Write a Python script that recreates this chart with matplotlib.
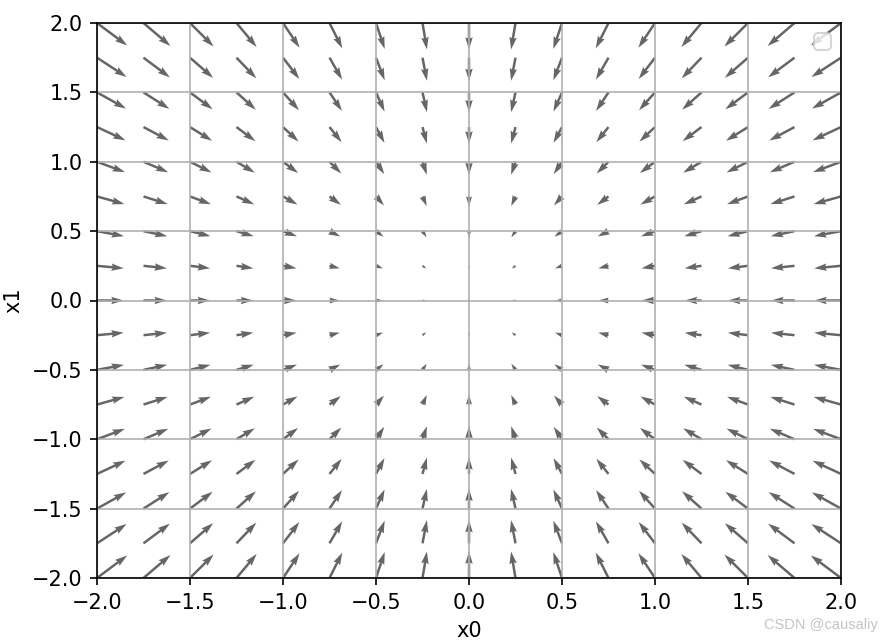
import numpy as np
import matplotlib
matplotlib.use("Agg")
import matplotlib.pyplot as plt

# grid of sample points (same for x0 and x1)
grid_x0 = [-2.0, -1.75, -1.5, -1.25, -1.0, -0.75, -0.5, -0.25, 0.0,
           0.25, 0.5, 0.75, 1.0, 1.25, 1.5, 1.75, 2.0, 2.25]
grid_x1 = [-2.0, -1.75, -1.5, -1.25, -1.0, -0.75, -0.5, -0.25, 0.0,
           0.25, 0.5, 0.75, 1.0, 1.25, 1.5, 1.75, 2.0, 2.25]

# negative gradient components read per column (x0) and per row (x1)
neg_grad_x0 = [4.0, 3.5, 3.0, 2.5, 2.0, 1.5, 1.0, 0.5, 0.0,
               -0.5, -1.0, -1.5, -2.0, -2.5, -3.0, -3.5, -4.0, -4.5]
neg_grad_x1 = [4.0, 3.5, 3.0, 2.5, 2.0, 1.5, 1.0, 0.5, 0.0,
               -0.5, -1.0, -1.5, -2.0, -2.5, -3.0, -3.5, -4.0, -4.5]

X, Y = np.meshgrid(grid_x0, grid_x1)
U, V = np.meshgrid(neg_grad_x0, neg_grad_x1)

fig = plt.figure(figsize=(889 / 150, 644 / 150), dpi=150)
ax = fig.add_subplot(1, 1, 1)
fig.subplots_adjust(left=97 / 889, right=841 / 889, bottom=1 - 578 / 644, top=1 - 23 / 644)

ax.quiver(X.flatten(), Y.flatten(), U.flatten(), V.flatten(), angles="xy", color="#666666")
ax.set_xlim([-2, 2])
ax.set_ylim([-2, 2])
ax.set_xlabel("x0")
ax.set_ylabel("x1")
ax.grid()
ax.legend(handles=[], loc="upper right")

# watermark
fig.text(878 / 889, 1 - 625 / 644, "CSDN @causaliy", ha="right", va="center",
         fontsize=7, family="Liberation Sans", color="#c4c4c4")

fig.savefig("out.png", dpi=150)
